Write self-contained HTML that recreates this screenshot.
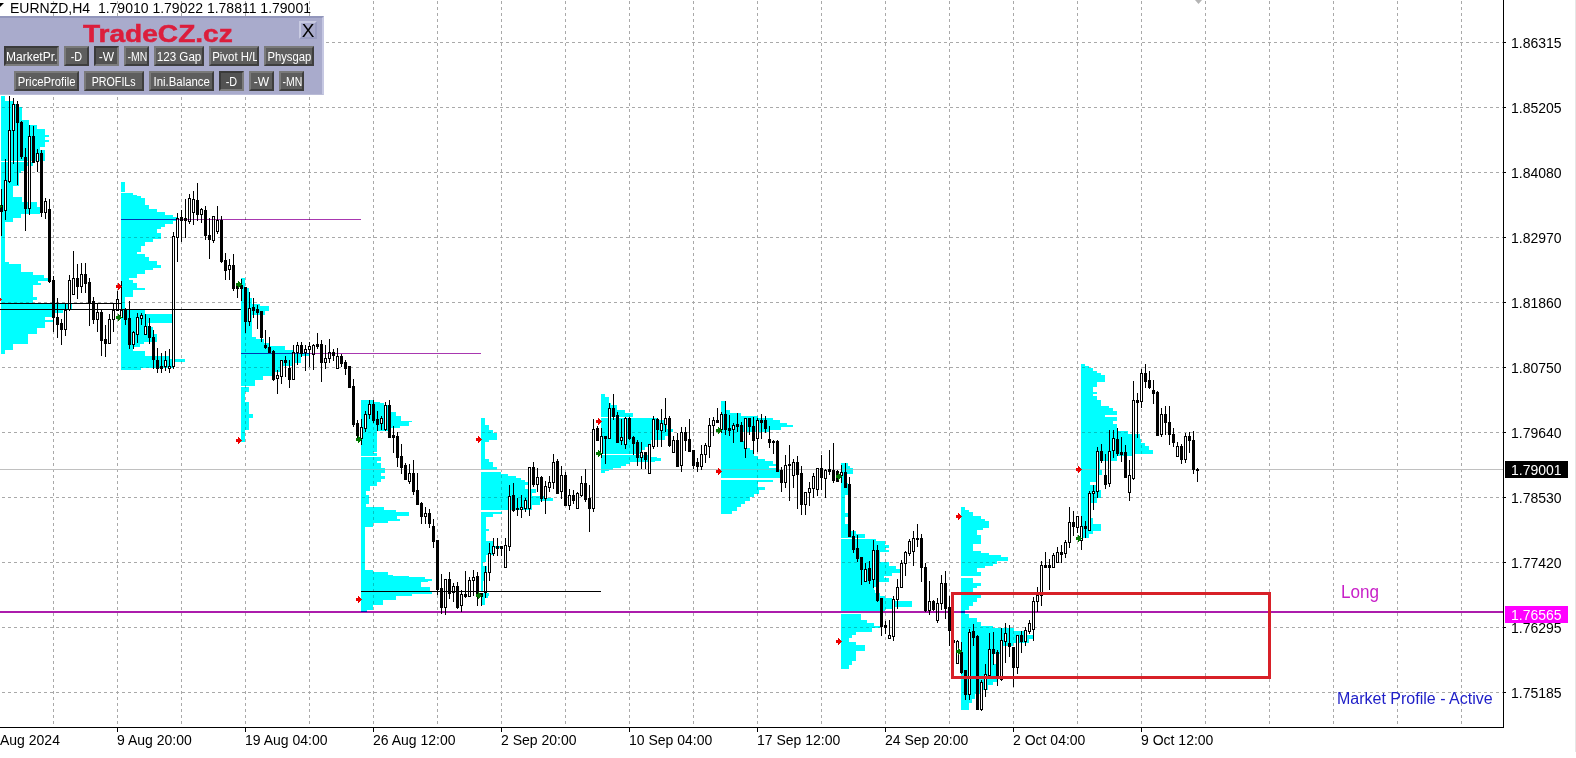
<!DOCTYPE html>
<html><head><meta charset="utf-8"><title>EURNZD,H4</title>
<style>
html,body{margin:0;padding:0;background:#fff;}
body{width:1576px;height:758px;overflow:hidden;position:relative;font-family:"Liberation Sans",sans-serif;}
svg.chart{position:absolute;left:0;top:0;}
.t{position:absolute;white-space:nowrap;line-height:1;}
.ax{font-size:14px;color:#000;}
.panel{position:absolute;left:0;top:16px;width:324px;height:79px;background:#a9abcc;box-sizing:border-box;border-top:2px solid #9296bb;border-right:2px solid #c6c8e2;border-bottom:1px solid #b9bbd6;}
.btn{position:absolute;height:20px;box-sizing:border-box;background:#5e5e5e;color:#fff;font-size:12px;line-height:18px;text-align:center;overflow:hidden;white-space:nowrap;border-top:2px solid #7a7a7a;border-left:2px solid #7a7a7a;border-right:2px solid #3e3e3e;border-bottom:2px solid #3e3e3e;}
.btn.p{background:#525252;border-top-color:#3a3a3a;border-left-color:#3a3a3a;border-right-color:#7c7c7c;border-bottom-color:#7c7c7c;}
</style></head><body>
<svg class="chart" width="1576" height="758" viewBox="0 0 1576 758" shape-rendering="crispEdges">
<line x1="0" y1="42.5" x2="1503" y2="42.5" stroke="#a9a9a9" stroke-width="1" stroke-dasharray="3 3" stroke-dashoffset="4"/><line x1="0" y1="107.5" x2="1503" y2="107.5" stroke="#a9a9a9" stroke-width="1" stroke-dasharray="3 3" stroke-dashoffset="4"/><line x1="0" y1="172.5" x2="1503" y2="172.5" stroke="#a9a9a9" stroke-width="1" stroke-dasharray="3 3" stroke-dashoffset="4"/><line x1="0" y1="237.5" x2="1503" y2="237.5" stroke="#a9a9a9" stroke-width="1" stroke-dasharray="3 3" stroke-dashoffset="4"/><line x1="0" y1="302.5" x2="1503" y2="302.5" stroke="#a9a9a9" stroke-width="1" stroke-dasharray="3 3" stroke-dashoffset="4"/><line x1="0" y1="367.5" x2="1503" y2="367.5" stroke="#a9a9a9" stroke-width="1" stroke-dasharray="3 3" stroke-dashoffset="4"/><line x1="0" y1="432.5" x2="1503" y2="432.5" stroke="#a9a9a9" stroke-width="1" stroke-dasharray="3 3" stroke-dashoffset="4"/><line x1="0" y1="497.5" x2="1503" y2="497.5" stroke="#a9a9a9" stroke-width="1" stroke-dasharray="3 3" stroke-dashoffset="4"/><line x1="0" y1="562.5" x2="1503" y2="562.5" stroke="#a9a9a9" stroke-width="1" stroke-dasharray="3 3" stroke-dashoffset="4"/><line x1="0" y1="627.5" x2="1503" y2="627.5" stroke="#a9a9a9" stroke-width="1" stroke-dasharray="3 3" stroke-dashoffset="4"/><line x1="0" y1="692.5" x2="1503" y2="692.5" stroke="#a9a9a9" stroke-width="1" stroke-dasharray="3 3" stroke-dashoffset="4"/><line x1="53.5" y1="0" x2="53.5" y2="727" stroke="#a9a9a9" stroke-width="1" stroke-dasharray="3 3" stroke-dashoffset="5"/><line x1="117.5" y1="0" x2="117.5" y2="727" stroke="#a9a9a9" stroke-width="1" stroke-dasharray="3 3" stroke-dashoffset="5"/><line x1="181.5" y1="0" x2="181.5" y2="727" stroke="#a9a9a9" stroke-width="1" stroke-dasharray="3 3" stroke-dashoffset="5"/><line x1="245.5" y1="0" x2="245.5" y2="727" stroke="#a9a9a9" stroke-width="1" stroke-dasharray="3 3" stroke-dashoffset="5"/><line x1="309.5" y1="0" x2="309.5" y2="727" stroke="#a9a9a9" stroke-width="1" stroke-dasharray="3 3" stroke-dashoffset="5"/><line x1="373.5" y1="0" x2="373.5" y2="727" stroke="#a9a9a9" stroke-width="1" stroke-dasharray="3 3" stroke-dashoffset="5"/><line x1="437.5" y1="0" x2="437.5" y2="727" stroke="#a9a9a9" stroke-width="1" stroke-dasharray="3 3" stroke-dashoffset="5"/><line x1="501.5" y1="0" x2="501.5" y2="727" stroke="#a9a9a9" stroke-width="1" stroke-dasharray="3 3" stroke-dashoffset="5"/><line x1="565.5" y1="0" x2="565.5" y2="727" stroke="#a9a9a9" stroke-width="1" stroke-dasharray="3 3" stroke-dashoffset="5"/><line x1="629.5" y1="0" x2="629.5" y2="727" stroke="#a9a9a9" stroke-width="1" stroke-dasharray="3 3" stroke-dashoffset="5"/><line x1="693.5" y1="0" x2="693.5" y2="727" stroke="#a9a9a9" stroke-width="1" stroke-dasharray="3 3" stroke-dashoffset="5"/><line x1="757.5" y1="0" x2="757.5" y2="727" stroke="#a9a9a9" stroke-width="1" stroke-dasharray="3 3" stroke-dashoffset="5"/><line x1="821.5" y1="0" x2="821.5" y2="727" stroke="#a9a9a9" stroke-width="1" stroke-dasharray="3 3" stroke-dashoffset="5"/><line x1="885.5" y1="0" x2="885.5" y2="727" stroke="#a9a9a9" stroke-width="1" stroke-dasharray="3 3" stroke-dashoffset="5"/><line x1="949.5" y1="0" x2="949.5" y2="727" stroke="#a9a9a9" stroke-width="1" stroke-dasharray="3 3" stroke-dashoffset="5"/><line x1="1013.5" y1="0" x2="1013.5" y2="727" stroke="#a9a9a9" stroke-width="1" stroke-dasharray="3 3" stroke-dashoffset="5"/><line x1="1077.5" y1="0" x2="1077.5" y2="727" stroke="#a9a9a9" stroke-width="1" stroke-dasharray="3 3" stroke-dashoffset="5"/><line x1="1141.5" y1="0" x2="1141.5" y2="727" stroke="#a9a9a9" stroke-width="1" stroke-dasharray="3 3" stroke-dashoffset="5"/><line x1="1205.5" y1="0" x2="1205.5" y2="727" stroke="#a9a9a9" stroke-width="1" stroke-dasharray="3 3" stroke-dashoffset="5"/><line x1="1269.5" y1="0" x2="1269.5" y2="727" stroke="#a9a9a9" stroke-width="1" stroke-dasharray="3 3" stroke-dashoffset="5"/><line x1="1333.5" y1="0" x2="1333.5" y2="727" stroke="#a9a9a9" stroke-width="1" stroke-dasharray="3 3" stroke-dashoffset="5"/><line x1="1397.5" y1="0" x2="1397.5" y2="727" stroke="#a9a9a9" stroke-width="1" stroke-dasharray="3 3" stroke-dashoffset="5"/><line x1="1461.5" y1="0" x2="1461.5" y2="727" stroke="#a9a9a9" stroke-width="1" stroke-dasharray="3 3" stroke-dashoffset="5"/><rect x="0" y="469" width="1503" height="1" fill="#c0c0c0"/><path d="M1 96H5V101H1ZM1 101H13V104H1ZM1 104H19V107H1ZM1 107H22V120H1ZM1 120H29V125H1ZM1 125H37V129H1ZM1 129H45V135H1ZM1 135H49V137H1ZM1 137H45V140H1ZM1 140H49V142H1ZM1 142H45V147H1ZM1 147H40V150H1ZM1 150H45V161H1ZM1 162H33V166H1ZM1 166H24V171H1ZM1 171H21V173H1ZM1 173H19V186H1ZM1 186H13V190H1ZM1 190H13V197H1ZM1 197H22V202H1ZM1 202H37V207H1ZM1 207H40V214H1ZM1 214H21V218H1ZM1 218H13V222H1ZM1 222H5V262H1ZM1 262H9V264H1ZM1 264H21V270H1ZM1 270H21V272H1ZM1 272H33V275H1ZM1 275H44V278H1ZM1 278H48V281H1ZM1 281H38V283H1ZM1 283H41V285H1ZM1 285H33V297H1ZM1 297H37V300H1ZM1 300H33V302H1ZM1 302H33V304H1ZM1 304H72V309H1ZM1 309H63V313H1ZM1 313H53V317H1ZM1 317H45V320H1ZM1 320H53V322H1ZM1 322H45V328H1ZM1 328H37V334H1ZM1 334H28V344H1ZM1 344H13V350H1ZM1 350H5V354H1Z" fill="#00ffff"/><path d="M121 182H125V192H121ZM121 193H133V195H121ZM121 195H137V196H121ZM121 196H141V198H121ZM121 198H145V202H121ZM121 202H145V205H121ZM121 205H149V209H121ZM121 209H157V212H121ZM121 212H165V215H121ZM121 215H173V217H121ZM121 217H178V221H121ZM121 221H173V224H121ZM121 224H165V227H121ZM121 227H161V229H121ZM121 229H157V233H121ZM121 233H161V239H121ZM121 239H153V242H121ZM121 242H145V246H121ZM121 246H141V252H121ZM121 252H137V254H121ZM121 254H145V257H121ZM121 257H149V261H121ZM121 261H157V265H121ZM121 265H161V268H121ZM121 268H153V270H121ZM121 270H145V274H121ZM121 274H137V278H121ZM121 278H129V280H121ZM121 280H133V283H121ZM121 283H137V288H121ZM121 288H145V290H121ZM121 290H133V297H121ZM121 297H125V310H121ZM121 310H145V314H121ZM121 314H172V318H121ZM121 318H172V323H121ZM121 323H148V327H121ZM121 327H153V334H121ZM121 334H157V342H121ZM121 342H144V344H121ZM121 344H140V347H121ZM121 347H133V351H121ZM121 351H145V356H121ZM121 356H169V359H121ZM121 359H185V362H121ZM121 362H174V368H121ZM121 368H141V370H121Z" fill="#00ffff"/><path d="M241 278H245V288H241ZM241 288H249V298H241ZM241 298H252V304H241ZM241 304H260V306H241ZM241 306H269V311H241ZM241 311H265V315H241ZM241 315H252V326H241ZM241 326H252V337H241ZM241 337H256V339H241ZM241 339H264V343H241ZM241 343H269V346H241ZM241 346H285V350H241ZM241 350H293V353H241ZM241 353H309V356H241ZM241 356H301V363H241ZM241 363H292V366H241ZM241 366H283V372H241ZM241 372H272V376H241ZM241 376H263V380H241ZM241 380H255V386H241ZM241 387H249V392H241ZM241 392H245V402H241ZM241 402H249V414H241ZM241 414H253V418H241ZM241 418H249V430H241ZM241 430H245V442H241Z" fill="#00ffff"/><path d="M361 400H374V402H361ZM361 402H380V403H361ZM361 403H384V405H361ZM361 405H391V412H361ZM361 412H396V416H361ZM361 416H401V421H361ZM361 421H412V422H361ZM361 422H409V426H361ZM361 426H400V428H361ZM361 428H389V431H361ZM361 431H377V452H361ZM361 452H373V453H361ZM361 453H377V456H361ZM361 457H381V461H361ZM361 461H377V463H361ZM361 463H381V468H361ZM361 468H385V473H361ZM361 473H381V476H361ZM361 476H385V479H361ZM361 479H381V482H361ZM361 482H377V486H361ZM361 486H370V491H361ZM361 491H366V495H361ZM361 495H369V504H361ZM361 504H366V507H361ZM361 507H384V510H361ZM361 510H396V512H361ZM361 512H409V516H361ZM361 516H397V519H361ZM361 519H400V521H361ZM361 521H388V523H361ZM361 523H373V527H361ZM361 527H365V570H361ZM361 570H373V572H361ZM361 572H388V575H361ZM361 575H393V576H361ZM361 576H409V577H361ZM361 577H425V579H361ZM361 579H432V581H361ZM361 581H428V582H361ZM361 582H421V587H361ZM361 587H430V592H361ZM361 592H432V594H361ZM361 594H412V596H361ZM361 596H396V600H361ZM361 600H383V605H361ZM361 605H373V610H361ZM361 610H367V612H361Z" fill="#00ffff"/><path d="M481 418H485V425H481ZM481 425H489V430H481ZM481 430H493V433H481ZM481 433H497V440H481ZM481 440H489V442H481ZM481 442H485V459H481ZM481 459H489V462H481ZM481 462H493V467H481ZM481 467H497V470H481ZM481 472H501V474H481ZM481 474H508V476H481ZM481 476H516V478H481ZM481 478H521V480H481ZM481 480H525V482H481ZM481 482H528V485H481ZM481 485H525V489H481ZM481 489H536V493H481ZM481 493H532V496H481ZM481 496H544V498H481ZM481 498H553V501H481ZM481 501H540V505H481ZM481 505H532V510H481ZM481 512H502V514H481ZM481 514H493V517H481ZM481 517H486V529H481ZM481 529H489V531H481ZM481 531H486V541H481ZM481 541H493V546H481ZM481 546H502V548H481ZM481 548H493V555H481ZM481 555H486V562H481ZM481 562H483V566H481ZM481 566H487V581H481ZM481 581H483V591H481ZM481 593H489V596H481ZM481 596H488V598H481ZM481 598H485V605H481Z" fill="#00ffff"/><path d="M601 394H605V397H601ZM601 397H609V403H601ZM601 403H611V405H601ZM601 405H617V410H601ZM601 410H625V413H601ZM601 413H633V417H601ZM601 418H658V420H601ZM601 420H667V429H601ZM601 429H673V432H601ZM601 432H668V436H601ZM601 436H665V440H601ZM601 440H651V445H601ZM601 445H648V447H601ZM601 447H645V450H601ZM601 450H642V454H601ZM601 455H648V457H601ZM601 457H657V458H601ZM601 458H661V461H601ZM601 461H655V462H601ZM601 462H630V464H601ZM601 464H626V466H601ZM601 466H621V468H601ZM601 468H613V470H601ZM601 470H609V471H601ZM601 471H605V473H601Z" fill="#00ffff"/><path d="M721 401H725V410H721ZM721 410H730V413H721ZM721 413H741V416H721ZM721 416H758V418H721ZM721 418H773V420H721ZM721 420H780V423H721ZM721 423H787V425H721ZM721 425H793V427H721ZM721 427H781V430H721ZM721 430H770V432H721ZM721 432H741V441H721ZM721 441H745V448H721ZM721 448H750V450H721ZM721 450H754V456H721ZM721 456H758V459H721ZM721 459H765V461H721ZM721 461H773V464H721ZM721 464H776V466H721ZM721 466H769V468H721ZM721 468H776V470H721ZM721 470H780V478H721ZM721 480H773V482H721ZM721 482H758V487H721ZM721 487H765V490H721ZM721 490H759V494H721ZM721 494H754V497H721ZM721 497H750V501H721ZM721 501H745V504H721ZM721 504H741V507H721ZM721 507H737V511H721ZM721 511H732V514H721Z" fill="#00ffff"/><path d="M841 463H848V466H841ZM841 466H850V468H841ZM841 468H853V474H841ZM841 474H847V483H841ZM841 483H848V495H841ZM841 495H845V513H841ZM841 513H851V517H841ZM841 517H845V524H841ZM841 524H850V531H841ZM841 531H856V534H841ZM841 534H865V538H841ZM841 539H876V541H841ZM841 541H885V545H841ZM841 545H889V548H841ZM841 548H885V550H841ZM841 550H889V552H841ZM841 552H880V562H841ZM841 562H889V566H841ZM841 566H896V569H841ZM841 569H900V573H841ZM841 573H892V576H841ZM841 576H884V578H841ZM841 578H889V582H841ZM841 582H878V587H841ZM841 587H874V590H841ZM841 590H875V593H841ZM841 593H880V596H841ZM841 596H885V598H841ZM841 598H892V601H841ZM841 601H912V607H841ZM841 607H892V609H841ZM841 609H885V611H841ZM841 614H861V620H841ZM841 620H867V623H841ZM841 623H874V626H841ZM841 626H880V628H841ZM841 628H872V632H841ZM841 632H856V635H841ZM841 635H852V638H841ZM841 638H849V642H841ZM841 642H856V645H841ZM841 645H865V651H841ZM841 651H856V661H841ZM841 661H852V665H841ZM841 665H849V669H841Z" fill="#00ffff"/><path d="M961 507H965V510H961ZM961 510H969V512H961ZM961 512H973V516H961ZM961 516H981V519H961ZM961 519H985V521H961ZM961 521H989V528H961ZM961 528H983V530H961ZM961 530H977V535H961ZM961 535H981V544H961ZM961 544H973V551H961ZM961 551H981V553H961ZM961 553H989V555H961ZM961 555H1001V557H961ZM961 557H1008V561H961ZM961 561H997V564H961ZM961 564H993V566H961ZM961 566H985V568H961ZM961 568H977V572H961ZM961 572H981V576H961ZM961 578H973V583H961ZM961 583H981V586H961ZM961 586H977V588H961ZM961 588H973V592H961ZM961 592H977V595H961ZM961 595H981V598H961ZM961 598H977V602H961ZM961 602H973V606H961ZM961 606H969V610H961ZM961 610H965V614H961ZM961 614H969V618H961ZM961 618H977V622H961ZM961 622H981V626H961ZM961 626H993V628H961ZM961 628H1014V631H961ZM961 631H1027V635H961ZM961 635H1033V639H961ZM961 639H1029V643H961ZM961 643H1013V646H961ZM961 646H1003V654H961ZM961 654H994V664H961ZM961 664H996V671H961ZM961 671H997V682H961ZM961 682H993V685H961ZM961 685H988V690H961ZM961 690H980V694H961ZM961 694H975V699H961ZM961 699H972V703H961ZM961 703H969V710H961Z" fill="#00ffff"/><path d="M1081 364H1085V366H1081ZM1081 366H1089V368H1081ZM1081 368H1093V371H1081ZM1081 371H1097V373H1081ZM1081 373H1101V375H1081ZM1081 375H1105V382H1081ZM1081 382H1097V387H1081ZM1081 387H1093V392H1081ZM1081 392H1097V394H1081ZM1081 394H1093V396H1081ZM1081 396H1097V400H1081ZM1081 400H1101V406H1081ZM1081 406H1109V408H1081ZM1081 408H1113V411H1081ZM1081 411H1117V415H1081ZM1081 415H1105V417H1081ZM1081 417H1117V421H1081ZM1081 421H1113V424H1081ZM1081 424H1117V431H1081ZM1081 431H1128V434H1081ZM1081 434H1140V439H1081ZM1081 439H1141V443H1081ZM1081 443H1145V446H1081ZM1081 446H1149V450H1081ZM1081 450H1153V454H1081ZM1081 454H1133V456H1081ZM1081 456H1117V461H1081ZM1081 461H1100V470H1081ZM1081 470H1102V475H1081ZM1081 475H1097V482H1081ZM1081 482H1090V485H1081ZM1081 485H1097V490H1081ZM1081 490H1101V498H1081ZM1081 498H1097V503H1081ZM1081 503H1090V518H1081ZM1081 518H1093V524H1081ZM1081 524H1101V531H1081ZM1081 531H1093V534H1081ZM1081 534H1089V538H1081Z" fill="#00ffff"/><defs><clipPath id="hc"><path d="M1 96H5V101H1ZM1 101H13V104H1ZM1 104H19V107H1ZM1 107H22V120H1ZM1 120H29V125H1ZM1 125H37V129H1ZM1 129H45V135H1ZM1 135H49V137H1ZM1 137H45V140H1ZM1 140H49V142H1ZM1 142H45V147H1ZM1 147H40V150H1ZM1 150H45V161H1ZM1 162H33V166H1ZM1 166H24V171H1ZM1 171H21V173H1ZM1 173H19V186H1ZM1 186H13V190H1ZM1 190H13V197H1ZM1 197H22V202H1ZM1 202H37V207H1ZM1 207H40V214H1ZM1 214H21V218H1ZM1 218H13V222H1ZM1 222H5V262H1ZM1 262H9V264H1ZM1 264H21V270H1ZM1 270H21V272H1ZM1 272H33V275H1ZM1 275H44V278H1ZM1 278H48V281H1ZM1 281H38V283H1ZM1 283H41V285H1ZM1 285H33V297H1ZM1 297H37V300H1ZM1 300H33V302H1ZM1 302H33V304H1ZM1 304H72V309H1ZM1 309H63V313H1ZM1 313H53V317H1ZM1 317H45V320H1ZM1 320H53V322H1ZM1 322H45V328H1ZM1 328H37V334H1ZM1 334H28V344H1ZM1 344H13V350H1ZM1 350H5V354H1ZM121 182H125V192H121ZM121 193H133V195H121ZM121 195H137V196H121ZM121 196H141V198H121ZM121 198H145V202H121ZM121 202H145V205H121ZM121 205H149V209H121ZM121 209H157V212H121ZM121 212H165V215H121ZM121 215H173V217H121ZM121 217H178V221H121ZM121 221H173V224H121ZM121 224H165V227H121ZM121 227H161V229H121ZM121 229H157V233H121ZM121 233H161V239H121ZM121 239H153V242H121ZM121 242H145V246H121ZM121 246H141V252H121ZM121 252H137V254H121ZM121 254H145V257H121ZM121 257H149V261H121ZM121 261H157V265H121ZM121 265H161V268H121ZM121 268H153V270H121ZM121 270H145V274H121ZM121 274H137V278H121ZM121 278H129V280H121ZM121 280H133V283H121ZM121 283H137V288H121ZM121 288H145V290H121ZM121 290H133V297H121ZM121 297H125V310H121ZM121 310H145V314H121ZM121 314H172V318H121ZM121 318H172V323H121ZM121 323H148V327H121ZM121 327H153V334H121ZM121 334H157V342H121ZM121 342H144V344H121ZM121 344H140V347H121ZM121 347H133V351H121ZM121 351H145V356H121ZM121 356H169V359H121ZM121 359H185V362H121ZM121 362H174V368H121ZM121 368H141V370H121ZM241 278H245V288H241ZM241 288H249V298H241ZM241 298H252V304H241ZM241 304H260V306H241ZM241 306H269V311H241ZM241 311H265V315H241ZM241 315H252V326H241ZM241 326H252V337H241ZM241 337H256V339H241ZM241 339H264V343H241ZM241 343H269V346H241ZM241 346H285V350H241ZM241 350H293V353H241ZM241 353H309V356H241ZM241 356H301V363H241ZM241 363H292V366H241ZM241 366H283V372H241ZM241 372H272V376H241ZM241 376H263V380H241ZM241 380H255V386H241ZM241 387H249V392H241ZM241 392H245V402H241ZM241 402H249V414H241ZM241 414H253V418H241ZM241 418H249V430H241ZM241 430H245V442H241ZM361 400H374V402H361ZM361 402H380V403H361ZM361 403H384V405H361ZM361 405H391V412H361ZM361 412H396V416H361ZM361 416H401V421H361ZM361 421H412V422H361ZM361 422H409V426H361ZM361 426H400V428H361ZM361 428H389V431H361ZM361 431H377V452H361ZM361 452H373V453H361ZM361 453H377V456H361ZM361 457H381V461H361ZM361 461H377V463H361ZM361 463H381V468H361ZM361 468H385V473H361ZM361 473H381V476H361ZM361 476H385V479H361ZM361 479H381V482H361ZM361 482H377V486H361ZM361 486H370V491H361ZM361 491H366V495H361ZM361 495H369V504H361ZM361 504H366V507H361ZM361 507H384V510H361ZM361 510H396V512H361ZM361 512H409V516H361ZM361 516H397V519H361ZM361 519H400V521H361ZM361 521H388V523H361ZM361 523H373V527H361ZM361 527H365V570H361ZM361 570H373V572H361ZM361 572H388V575H361ZM361 575H393V576H361ZM361 576H409V577H361ZM361 577H425V579H361ZM361 579H432V581H361ZM361 581H428V582H361ZM361 582H421V587H361ZM361 587H430V592H361ZM361 592H432V594H361ZM361 594H412V596H361ZM361 596H396V600H361ZM361 600H383V605H361ZM361 605H373V610H361ZM361 610H367V612H361ZM481 418H485V425H481ZM481 425H489V430H481ZM481 430H493V433H481ZM481 433H497V440H481ZM481 440H489V442H481ZM481 442H485V459H481ZM481 459H489V462H481ZM481 462H493V467H481ZM481 467H497V470H481ZM481 472H501V474H481ZM481 474H508V476H481ZM481 476H516V478H481ZM481 478H521V480H481ZM481 480H525V482H481ZM481 482H528V485H481ZM481 485H525V489H481ZM481 489H536V493H481ZM481 493H532V496H481ZM481 496H544V498H481ZM481 498H553V501H481ZM481 501H540V505H481ZM481 505H532V510H481ZM481 512H502V514H481ZM481 514H493V517H481ZM481 517H486V529H481ZM481 529H489V531H481ZM481 531H486V541H481ZM481 541H493V546H481ZM481 546H502V548H481ZM481 548H493V555H481ZM481 555H486V562H481ZM481 562H483V566H481ZM481 566H487V581H481ZM481 581H483V591H481ZM481 593H489V596H481ZM481 596H488V598H481ZM481 598H485V605H481ZM601 394H605V397H601ZM601 397H609V403H601ZM601 403H611V405H601ZM601 405H617V410H601ZM601 410H625V413H601ZM601 413H633V417H601ZM601 418H658V420H601ZM601 420H667V429H601ZM601 429H673V432H601ZM601 432H668V436H601ZM601 436H665V440H601ZM601 440H651V445H601ZM601 445H648V447H601ZM601 447H645V450H601ZM601 450H642V454H601ZM601 455H648V457H601ZM601 457H657V458H601ZM601 458H661V461H601ZM601 461H655V462H601ZM601 462H630V464H601ZM601 464H626V466H601ZM601 466H621V468H601ZM601 468H613V470H601ZM601 470H609V471H601ZM601 471H605V473H601ZM721 401H725V410H721ZM721 410H730V413H721ZM721 413H741V416H721ZM721 416H758V418H721ZM721 418H773V420H721ZM721 420H780V423H721ZM721 423H787V425H721ZM721 425H793V427H721ZM721 427H781V430H721ZM721 430H770V432H721ZM721 432H741V441H721ZM721 441H745V448H721ZM721 448H750V450H721ZM721 450H754V456H721ZM721 456H758V459H721ZM721 459H765V461H721ZM721 461H773V464H721ZM721 464H776V466H721ZM721 466H769V468H721ZM721 468H776V470H721ZM721 470H780V478H721ZM721 480H773V482H721ZM721 482H758V487H721ZM721 487H765V490H721ZM721 490H759V494H721ZM721 494H754V497H721ZM721 497H750V501H721ZM721 501H745V504H721ZM721 504H741V507H721ZM721 507H737V511H721ZM721 511H732V514H721ZM841 463H848V466H841ZM841 466H850V468H841ZM841 468H853V474H841ZM841 474H847V483H841ZM841 483H848V495H841ZM841 495H845V513H841ZM841 513H851V517H841ZM841 517H845V524H841ZM841 524H850V531H841ZM841 531H856V534H841ZM841 534H865V538H841ZM841 539H876V541H841ZM841 541H885V545H841ZM841 545H889V548H841ZM841 548H885V550H841ZM841 550H889V552H841ZM841 552H880V562H841ZM841 562H889V566H841ZM841 566H896V569H841ZM841 569H900V573H841ZM841 573H892V576H841ZM841 576H884V578H841ZM841 578H889V582H841ZM841 582H878V587H841ZM841 587H874V590H841ZM841 590H875V593H841ZM841 593H880V596H841ZM841 596H885V598H841ZM841 598H892V601H841ZM841 601H912V607H841ZM841 607H892V609H841ZM841 609H885V611H841ZM841 614H861V620H841ZM841 620H867V623H841ZM841 623H874V626H841ZM841 626H880V628H841ZM841 628H872V632H841ZM841 632H856V635H841ZM841 635H852V638H841ZM841 638H849V642H841ZM841 642H856V645H841ZM841 645H865V651H841ZM841 651H856V661H841ZM841 661H852V665H841ZM841 665H849V669H841ZM961 507H965V510H961ZM961 510H969V512H961ZM961 512H973V516H961ZM961 516H981V519H961ZM961 519H985V521H961ZM961 521H989V528H961ZM961 528H983V530H961ZM961 530H977V535H961ZM961 535H981V544H961ZM961 544H973V551H961ZM961 551H981V553H961ZM961 553H989V555H961ZM961 555H1001V557H961ZM961 557H1008V561H961ZM961 561H997V564H961ZM961 564H993V566H961ZM961 566H985V568H961ZM961 568H977V572H961ZM961 572H981V576H961ZM961 578H973V583H961ZM961 583H981V586H961ZM961 586H977V588H961ZM961 588H973V592H961ZM961 592H977V595H961ZM961 595H981V598H961ZM961 598H977V602H961ZM961 602H973V606H961ZM961 606H969V610H961ZM961 610H965V614H961ZM961 614H969V618H961ZM961 618H977V622H961ZM961 622H981V626H961ZM961 626H993V628H961ZM961 628H1014V631H961ZM961 631H1027V635H961ZM961 635H1033V639H961ZM961 639H1029V643H961ZM961 643H1013V646H961ZM961 646H1003V654H961ZM961 654H994V664H961ZM961 664H996V671H961ZM961 671H997V682H961ZM961 682H993V685H961ZM961 685H988V690H961ZM961 690H980V694H961ZM961 694H975V699H961ZM961 699H972V703H961ZM961 703H969V710H961ZM1081 364H1085V366H1081ZM1081 366H1089V368H1081ZM1081 368H1093V371H1081ZM1081 371H1097V373H1081ZM1081 373H1101V375H1081ZM1081 375H1105V382H1081ZM1081 382H1097V387H1081ZM1081 387H1093V392H1081ZM1081 392H1097V394H1081ZM1081 394H1093V396H1081ZM1081 396H1097V400H1081ZM1081 400H1101V406H1081ZM1081 406H1109V408H1081ZM1081 408H1113V411H1081ZM1081 411H1117V415H1081ZM1081 415H1105V417H1081ZM1081 417H1117V421H1081ZM1081 421H1113V424H1081ZM1081 424H1117V431H1081ZM1081 431H1128V434H1081ZM1081 434H1140V439H1081ZM1081 439H1141V443H1081ZM1081 443H1145V446H1081ZM1081 446H1149V450H1081ZM1081 450H1153V454H1081ZM1081 454H1133V456H1081ZM1081 456H1117V461H1081ZM1081 461H1100V470H1081ZM1081 470H1102V475H1081ZM1081 475H1097V482H1081ZM1081 482H1090V485H1081ZM1081 485H1097V490H1081ZM1081 490H1101V498H1081ZM1081 498H1097V503H1081ZM1081 503H1090V518H1081ZM1081 518H1093V524H1081ZM1081 524H1101V531H1081ZM1081 531H1093V534H1081ZM1081 534H1089V538H1081Z"/></clipPath></defs><g clip-path="url(#hc)"><line x1="0" y1="42.5" x2="1503" y2="42.5" stroke="#00c4c4" stroke-width="1" stroke-dasharray="3 3" stroke-dashoffset="4"/><line x1="0" y1="107.5" x2="1503" y2="107.5" stroke="#00c4c4" stroke-width="1" stroke-dasharray="3 3" stroke-dashoffset="4"/><line x1="0" y1="172.5" x2="1503" y2="172.5" stroke="#00c4c4" stroke-width="1" stroke-dasharray="3 3" stroke-dashoffset="4"/><line x1="0" y1="237.5" x2="1503" y2="237.5" stroke="#00c4c4" stroke-width="1" stroke-dasharray="3 3" stroke-dashoffset="4"/><line x1="0" y1="302.5" x2="1503" y2="302.5" stroke="#00c4c4" stroke-width="1" stroke-dasharray="3 3" stroke-dashoffset="4"/><line x1="0" y1="367.5" x2="1503" y2="367.5" stroke="#00c4c4" stroke-width="1" stroke-dasharray="3 3" stroke-dashoffset="4"/><line x1="0" y1="432.5" x2="1503" y2="432.5" stroke="#00c4c4" stroke-width="1" stroke-dasharray="3 3" stroke-dashoffset="4"/><line x1="0" y1="497.5" x2="1503" y2="497.5" stroke="#00c4c4" stroke-width="1" stroke-dasharray="3 3" stroke-dashoffset="4"/><line x1="0" y1="562.5" x2="1503" y2="562.5" stroke="#00c4c4" stroke-width="1" stroke-dasharray="3 3" stroke-dashoffset="4"/><line x1="0" y1="627.5" x2="1503" y2="627.5" stroke="#00c4c4" stroke-width="1" stroke-dasharray="3 3" stroke-dashoffset="4"/><line x1="0" y1="692.5" x2="1503" y2="692.5" stroke="#00c4c4" stroke-width="1" stroke-dasharray="3 3" stroke-dashoffset="4"/><line x1="53.5" y1="0" x2="53.5" y2="727" stroke="#00c4c4" stroke-width="1" stroke-dasharray="3 3" stroke-dashoffset="5"/><line x1="117.5" y1="0" x2="117.5" y2="727" stroke="#00c4c4" stroke-width="1" stroke-dasharray="3 3" stroke-dashoffset="5"/><line x1="181.5" y1="0" x2="181.5" y2="727" stroke="#00c4c4" stroke-width="1" stroke-dasharray="3 3" stroke-dashoffset="5"/><line x1="245.5" y1="0" x2="245.5" y2="727" stroke="#00c4c4" stroke-width="1" stroke-dasharray="3 3" stroke-dashoffset="5"/><line x1="309.5" y1="0" x2="309.5" y2="727" stroke="#00c4c4" stroke-width="1" stroke-dasharray="3 3" stroke-dashoffset="5"/><line x1="373.5" y1="0" x2="373.5" y2="727" stroke="#00c4c4" stroke-width="1" stroke-dasharray="3 3" stroke-dashoffset="5"/><line x1="437.5" y1="0" x2="437.5" y2="727" stroke="#00c4c4" stroke-width="1" stroke-dasharray="3 3" stroke-dashoffset="5"/><line x1="501.5" y1="0" x2="501.5" y2="727" stroke="#00c4c4" stroke-width="1" stroke-dasharray="3 3" stroke-dashoffset="5"/><line x1="565.5" y1="0" x2="565.5" y2="727" stroke="#00c4c4" stroke-width="1" stroke-dasharray="3 3" stroke-dashoffset="5"/><line x1="629.5" y1="0" x2="629.5" y2="727" stroke="#00c4c4" stroke-width="1" stroke-dasharray="3 3" stroke-dashoffset="5"/><line x1="693.5" y1="0" x2="693.5" y2="727" stroke="#00c4c4" stroke-width="1" stroke-dasharray="3 3" stroke-dashoffset="5"/><line x1="757.5" y1="0" x2="757.5" y2="727" stroke="#00c4c4" stroke-width="1" stroke-dasharray="3 3" stroke-dashoffset="5"/><line x1="821.5" y1="0" x2="821.5" y2="727" stroke="#00c4c4" stroke-width="1" stroke-dasharray="3 3" stroke-dashoffset="5"/><line x1="885.5" y1="0" x2="885.5" y2="727" stroke="#00c4c4" stroke-width="1" stroke-dasharray="3 3" stroke-dashoffset="5"/><line x1="949.5" y1="0" x2="949.5" y2="727" stroke="#00c4c4" stroke-width="1" stroke-dasharray="3 3" stroke-dashoffset="5"/><line x1="1013.5" y1="0" x2="1013.5" y2="727" stroke="#00c4c4" stroke-width="1" stroke-dasharray="3 3" stroke-dashoffset="5"/><line x1="1077.5" y1="0" x2="1077.5" y2="727" stroke="#00c4c4" stroke-width="1" stroke-dasharray="3 3" stroke-dashoffset="5"/><line x1="1141.5" y1="0" x2="1141.5" y2="727" stroke="#00c4c4" stroke-width="1" stroke-dasharray="3 3" stroke-dashoffset="5"/><line x1="1205.5" y1="0" x2="1205.5" y2="727" stroke="#00c4c4" stroke-width="1" stroke-dasharray="3 3" stroke-dashoffset="5"/><line x1="1269.5" y1="0" x2="1269.5" y2="727" stroke="#00c4c4" stroke-width="1" stroke-dasharray="3 3" stroke-dashoffset="5"/><line x1="1333.5" y1="0" x2="1333.5" y2="727" stroke="#00c4c4" stroke-width="1" stroke-dasharray="3 3" stroke-dashoffset="5"/><line x1="1397.5" y1="0" x2="1397.5" y2="727" stroke="#00c4c4" stroke-width="1" stroke-dasharray="3 3" stroke-dashoffset="5"/><line x1="1461.5" y1="0" x2="1461.5" y2="727" stroke="#00c4c4" stroke-width="1" stroke-dasharray="3 3" stroke-dashoffset="5"/><rect x="0" y="469" width="1503" height="1" fill="#50d4d4"/></g><path d="M1 189h1V236h-1ZM0 205h3V212h-3ZM5 159h1V220h-1ZM4 180h3V211h-3ZM9 96h1V183h-1ZM8 130h3V182h-3ZM13 98h1V164h-1ZM12 104h3V131h-3ZM17 101h1V185h-1ZM16 104h3V123h-3ZM21 121h1V159h-1ZM20 122h3V157h-3ZM25 148h1V231h-1ZM24 157h3V209h-3ZM29 125h1V215h-1ZM28 136h3V209h-3ZM33 126h1V163h-1ZM32 136h3V163h-3ZM37 149h1V172h-1ZM36 153h3V162h-3ZM41 150h1V217h-1ZM40 153h3V213h-3ZM45 198h1V219h-1ZM44 201h3V213h-3ZM49 199h1V283h-1ZM48 209h3V282h-3ZM53 276h1V332h-1ZM52 280h3V318h-3ZM57 298h1V338h-1ZM56 317h3V325h-3ZM61 319h1V345h-1ZM60 323h3V330h-3ZM65 303h1V336h-1ZM64 310h3V330h-3ZM69 275h1V311h-1ZM68 280h3V310h-3ZM73 251h1V295h-1ZM72 278h3V295h-3ZM77 264h1V299h-1ZM76 278h3V287h-3ZM81 263h1V293h-1ZM80 274h3V287h-3ZM85 263h1V293h-1ZM84 274h3V284h-3ZM89 278h1V326h-1ZM88 282h3V303h-3ZM93 297h1V324h-1ZM92 301h3V320h-3ZM97 303h1V332h-1ZM96 312h3V320h-3ZM101 310h1V356h-1ZM100 312h3V341h-3ZM105 325h1V357h-1ZM104 339h3V344h-3ZM109 314h1V344h-1ZM108 319h3V344h-3ZM113 304h1V332h-1ZM112 310h3V320h-3ZM117 291h1V311h-1ZM116 299h3V311h-3ZM121 281h1V318h-1ZM120 310h3V318h-3ZM125 308h1V325h-1ZM124 309h3V320h-3ZM129 301h1V349h-1ZM128 318h3V345h-3ZM133 331h1V349h-1ZM132 332h3V345h-3ZM137 313h1V343h-1ZM136 317h3V335h-3ZM141 313h1V325h-1ZM140 315h3V319h-3ZM145 314h1V335h-1ZM144 326h3V335h-3ZM149 318h1V344h-1ZM148 326h3V338h-3ZM153 330h1V369h-1ZM152 337h3V360h-3ZM157 348h1V373h-1ZM156 360h3V369h-3ZM161 353h1V373h-1ZM160 366h3V369h-3ZM165 351h1V371h-1ZM164 360h3V367h-3ZM169 349h1V373h-1ZM168 366h3V369h-3ZM173 232h1V369h-1ZM172 236h3V367h-3ZM177 213h1V262h-1ZM176 218h3V238h-3ZM181 210h1V242h-1ZM180 217h3V221h-3ZM185 199h1V238h-1ZM184 218h3V221h-3ZM189 194h1V224h-1ZM188 198h3V222h-3ZM193 191h1V225h-1ZM192 199h3V213h-3ZM197 183h1V221h-1ZM196 200h3V215h-3ZM201 208h1V223h-1ZM200 209h3V215h-3ZM205 206h1V240h-1ZM204 210h3V236h-3ZM209 218h1V259h-1ZM208 235h3V240h-3ZM213 216h1V243h-1ZM212 216h3V241h-3ZM217 206h1V234h-1ZM216 220h3V232h-3ZM221 216h1V263h-1ZM220 220h3V262h-3ZM225 253h1V280h-1ZM224 260h3V271h-3ZM229 259h1V280h-1ZM228 265h3V270h-3ZM233 254h1V291h-1ZM232 265h3V289h-3ZM237 284h1V298h-1ZM236 286h3V289h-3ZM241 279h1V301h-1ZM240 285h3V289h-3ZM245 287h1V333h-1ZM244 287h3V322h-3ZM249 292h1V326h-1ZM248 308h3V322h-3ZM253 298h1V318h-1ZM252 307h3V311h-3ZM257 305h1V329h-1ZM256 309h3V313h-3ZM261 311h1V342h-1ZM260 311h3V338h-3ZM265 330h1V349h-1ZM264 345h3V348h-3ZM269 337h1V353h-1ZM268 347h3V353h-3ZM273 350h1V381h-1ZM272 351h3V380h-3ZM277 370h1V394h-1ZM276 375h3V379h-3ZM281 360h1V384h-1ZM280 360h3V377h-3ZM285 356h1V377h-1ZM284 360h3V363h-3ZM289 360h1V388h-1ZM288 368h3V380h-3ZM293 345h1V380h-1ZM292 352h3V380h-3ZM297 342h1V365h-1ZM296 345h3V353h-3ZM301 342h1V357h-1ZM300 345h3V354h-3ZM305 345h1V371h-1ZM304 349h3V353h-3ZM309 342h1V367h-1ZM308 346h3V350h-3ZM313 344h1V370h-1ZM312 345h3V355h-3ZM317 333h1V349h-1ZM316 344h3V347h-3ZM321 340h1V382h-1ZM320 344h3V363h-3ZM325 345h1V369h-1ZM324 358h3V363h-3ZM329 339h1V363h-1ZM328 352h3V359h-3ZM333 349h1V361h-1ZM332 352h3V356h-3ZM337 348h1V369h-1ZM336 356h3V369h-3ZM341 354h1V367h-1ZM340 356h3V364h-3ZM345 360h1V375h-1ZM344 362h3V369h-3ZM349 366h1V388h-1ZM348 366h3V388h-3ZM353 379h1V427h-1ZM352 386h3V425h-3ZM357 420h1V438h-1ZM356 423h3V436h-3ZM361 419h1V445h-1ZM360 427h3V439h-3ZM365 411h1V432h-1ZM364 414h3V429h-3ZM369 400h1V419h-1ZM368 404h3V415h-3ZM373 400h1V423h-1ZM372 404h3V421h-3ZM377 411h1V431h-1ZM376 419h3V425h-3ZM381 416h1V430h-1ZM380 418h3V424h-3ZM385 402h1V431h-1ZM384 405h3V430h-3ZM389 400h1V438h-1ZM388 405h3V438h-3ZM393 426h1V453h-1ZM392 435h3V438h-3ZM397 432h1V467h-1ZM396 436h3V458h-3ZM401 444h1V474h-1ZM400 456h3V468h-3ZM405 463h1V480h-1ZM404 465h3V480h-3ZM409 464h1V484h-1ZM408 473h3V482h-3ZM413 460h1V495h-1ZM412 473h3V492h-3ZM417 473h1V505h-1ZM416 490h3V505h-3ZM421 502h1V524h-1ZM420 503h3V517h-3ZM425 507h1V524h-1ZM424 513h3V517h-3ZM429 509h1V528h-1ZM428 513h3V524h-3ZM433 519h1V548h-1ZM432 526h3V542h-3ZM437 540h1V595h-1ZM436 540h3V590h-3ZM441 574h1V614h-1ZM440 588h3V608h-3ZM445 579h1V615h-1ZM444 579h3V608h-3ZM449 572h1V599h-1ZM448 579h3V594h-3ZM453 583h1V602h-1ZM452 586h3V593h-3ZM457 582h1V609h-1ZM456 586h3V608h-3ZM461 590h1V612h-1ZM460 594h3V606h-3ZM465 571h1V598h-1ZM464 594h3V597h-3ZM469 577h1V597h-1ZM468 580h3V597h-3ZM473 570h1V596h-1ZM472 577h3V581h-3ZM477 572h1V606h-1ZM476 576h3V594h-3ZM481 593h1V606h-1ZM480 593h3V597h-3ZM485 566h1V598h-1ZM484 572h3V593h-3ZM489 543h1V581h-1ZM488 553h3V573h-3ZM493 538h1V556h-1ZM492 546h3V554h-3ZM497 538h1V556h-1ZM496 546h3V549h-3ZM501 546h1V556h-1ZM500 546h3V549h-3ZM505 538h1V568h-1ZM504 545h3V568h-3ZM509 485h1V551h-1ZM508 496h3V547h-3ZM513 483h1V512h-1ZM512 495h3V511h-3ZM517 498h1V516h-1ZM516 508h3V510h-3ZM521 495h1V518h-1ZM520 507h3V510h-3ZM525 498h1V512h-1ZM524 500h3V509h-3ZM529 467h1V516h-1ZM528 467h3V509h-3ZM533 462h1V487h-1ZM532 467h3V485h-3ZM537 468h1V492h-1ZM536 477h3V485h-3ZM541 476h1V502h-1ZM540 477h3V499h-3ZM545 481h1V514h-1ZM544 486h3V499h-3ZM549 476h1V492h-1ZM548 482h3V488h-3ZM553 454h1V489h-1ZM552 462h3V483h-3ZM557 459h1V494h-1ZM556 461h3V494h-3ZM561 466h1V499h-1ZM560 475h3V492h-3ZM565 472h1V506h-1ZM564 475h3V506h-3ZM569 489h1V510h-1ZM568 495h3V506h-3ZM573 490h1V504h-1ZM572 495h3V501h-3ZM577 492h1V509h-1ZM576 493h3V509h-3ZM581 476h1V497h-1ZM580 483h3V496h-3ZM585 469h1V502h-1ZM584 483h3V500h-3ZM589 485h1V532h-1ZM588 498h3V509h-3ZM593 419h1V512h-1ZM592 429h3V509h-3ZM597 426h1V441h-1ZM596 428h3V441h-3ZM601 428h1V458h-1ZM600 436h3V454h-3ZM605 436h1V464h-1ZM604 436h3V439h-3ZM609 403h1V439h-1ZM608 408h3V439h-3ZM613 394h1V420h-1ZM612 408h3V417h-3ZM617 412h1V443h-1ZM616 415h3V443h-3ZM621 419h1V445h-1ZM620 437h3V441h-3ZM625 417h1V449h-1ZM624 418h3V445h-3ZM629 417h1V440h-1ZM628 418h3V439h-3ZM633 436h1V455h-1ZM632 437h3V444h-3ZM637 440h1V466h-1ZM636 442h3V458h-3ZM641 442h1V469h-1ZM640 452h3V458h-3ZM645 452h1V469h-1ZM644 452h3V460h-3ZM649 444h1V474h-1ZM648 444h3V474h-3ZM653 416h1V449h-1ZM652 419h3V447h-3ZM657 418h1V447h-1ZM656 419h3V430h-3ZM661 409h1V447h-1ZM660 423h3V431h-3ZM665 398h1V432h-1ZM664 418h3V425h-3ZM669 416h1V447h-1ZM668 418h3V446h-3ZM673 436h1V453h-1ZM672 440h3V453h-3ZM677 433h1V467h-1ZM676 440h3V467h-3ZM681 427h1V472h-1ZM680 432h3V466h-3ZM685 427h1V451h-1ZM684 432h3V441h-3ZM689 419h1V452h-1ZM688 439h3V452h-3ZM693 450h1V469h-1ZM692 450h3V466h-3ZM697 458h1V472h-1ZM696 462h3V467h-3ZM701 445h1V470h-1ZM700 454h3V467h-3ZM705 443h1V463h-1ZM704 445h3V455h-3ZM709 418h1V458h-1ZM708 425h3V447h-3ZM713 417h1V436h-1ZM712 420h3V426h-3ZM717 408h1V423h-1ZM716 420h3V423h-3ZM721 412h1V433h-1ZM720 414h3V430h-3ZM725 401h1V435h-1ZM724 414h3V430h-3ZM729 415h1V436h-1ZM728 428h3V431h-3ZM733 423h1V443h-1ZM732 425h3V430h-3ZM737 413h1V432h-1ZM736 424h3V427h-3ZM741 422h1V442h-1ZM740 425h3V442h-3ZM745 418h1V458h-1ZM744 418h3V449h-3ZM749 418h1V435h-1ZM748 418h3V427h-3ZM753 417h1V454h-1ZM752 426h3V441h-3ZM757 418h1V452h-1ZM756 420h3V439h-3ZM761 414h1V439h-1ZM760 420h3V423h-3ZM765 416h1V433h-1ZM764 420h3V429h-3ZM769 426h1V448h-1ZM768 439h3V443h-3ZM773 440h1V454h-1ZM772 441h3V443h-3ZM777 440h1V472h-1ZM776 441h3V472h-3ZM781 467h1V492h-1ZM780 470h3V483h-3ZM785 455h1V488h-1ZM784 465h3V483h-3ZM789 445h1V501h-1ZM788 464h3V466h-3ZM793 459h1V488h-1ZM792 462h3V476h-3ZM797 456h1V509h-1ZM796 462h3V475h-3ZM801 466h1V515h-1ZM800 473h3V505h-3ZM805 492h1V515h-1ZM804 492h3V505h-3ZM809 482h1V506h-1ZM808 488h3V493h-3ZM813 473h1V498h-1ZM812 476h3V489h-3ZM817 468h1V496h-1ZM816 468h3V490h-3ZM821 455h1V490h-1ZM820 468h3V478h-3ZM825 469h1V498h-1ZM824 470h3V479h-3ZM829 450h1V475h-1ZM828 469h3V472h-3ZM833 443h1V483h-1ZM832 470h3V481h-3ZM837 470h1V482h-1ZM836 471h3V482h-3ZM841 465h1V483h-1ZM840 472h3V476h-3ZM845 463h1V488h-1ZM844 472h3V488h-3ZM849 477h1V537h-1ZM848 484h3V537h-3ZM853 530h1V553h-1ZM852 536h3V550h-3ZM857 535h1V562h-1ZM856 548h3V559h-3ZM861 557h1V585h-1ZM860 557h3V570h-3ZM865 563h1V582h-1ZM864 569h3V582h-3ZM869 561h1V584h-1ZM868 568h3V581h-3ZM873 540h1V588h-1ZM872 550h3V580h-3ZM877 545h1V602h-1ZM876 550h3V601h-3ZM881 598h1V636h-1ZM880 598h3V627h-3ZM885 621h1V634h-1ZM884 625h3V628h-3ZM889 620h1V639h-1ZM888 635h3V639h-3ZM893 596h1V641h-1ZM892 599h3V637h-3ZM897 579h1V609h-1ZM896 587h3V600h-3ZM901 560h1V588h-1ZM900 563h3V588h-3ZM905 551h1V576h-1ZM904 552h3V564h-3ZM909 539h1V556h-1ZM908 541h3V554h-3ZM913 531h1V566h-1ZM912 538h3V552h-3ZM917 524h1V547h-1ZM916 538h3V540h-3ZM921 534h1V582h-1ZM920 538h3V568h-3ZM925 563h1V612h-1ZM924 567h3V611h-3ZM929 581h1V615h-1ZM928 601h3V611h-3ZM933 600h1V611h-1ZM932 601h3V610h-3ZM937 598h1V623h-1ZM936 603h3V621h-3ZM941 575h1V610h-1ZM940 583h3V604h-3ZM945 571h1V619h-1ZM944 583h3V609h-3ZM949 596h1V646h-1ZM948 607h3V631h-3ZM953 630h1V664h-1ZM952 640h3V643h-3ZM957 640h1V664h-1ZM956 641h3V664h-3ZM961 642h1V674h-1ZM960 652h3V673h-3ZM965 670h1V700h-1ZM964 670h3V695h-3ZM969 629h1V700h-1ZM968 632h3V695h-3ZM973 624h1V646h-1ZM972 631h3V638h-3ZM977 635h1V710h-1ZM976 636h3V710h-3ZM981 680h1V711h-1ZM980 682h3V710h-3ZM985 664h1V697h-1ZM984 674h3V690h-3ZM989 633h1V676h-1ZM988 649h3V676h-3ZM993 632h1V665h-1ZM992 649h3V654h-3ZM997 650h1V686h-1ZM996 652h3V677h-3ZM1001 628h1V681h-1ZM1000 640h3V680h-3ZM1005 623h1V663h-1ZM1004 633h3V642h-3ZM1009 625h1V657h-1ZM1008 643h3V647h-3ZM1013 647h1V687h-1ZM1012 647h3V668h-3ZM1017 635h1V674h-1ZM1016 635h3V668h-3ZM1021 631h1V653h-1ZM1020 635h3V642h-3ZM1025 627h1V646h-1ZM1024 630h3V642h-3ZM1029 620h1V634h-1ZM1028 623h3V632h-3ZM1033 597h1V641h-1ZM1032 601h3V630h-3ZM1037 587h1V612h-1ZM1036 595h3V602h-3ZM1041 561h1V606h-1ZM1040 565h3V596h-3ZM1045 552h1V567h-1ZM1044 565h3V568h-3ZM1049 559h1V590h-1ZM1048 565h3V568h-3ZM1053 553h1V568h-1ZM1052 555h3V568h-3ZM1057 547h1V563h-1ZM1056 552h3V563h-3ZM1061 545h1V563h-1ZM1060 552h3V555h-3ZM1065 540h1V558h-1ZM1064 542h3V554h-3ZM1069 507h1V548h-1ZM1068 522h3V543h-3ZM1073 511h1V536h-1ZM1072 522h3V527h-3ZM1077 516h1V533h-1ZM1076 516h3V528h-3ZM1081 516h1V550h-1ZM1080 526h3V541h-3ZM1085 521h1V538h-1ZM1084 526h3V529h-3ZM1089 491h1V531h-1ZM1088 493h3V531h-3ZM1093 485h1V510h-1ZM1092 491h3V494h-3ZM1097 447h1V498h-1ZM1096 451h3V492h-3ZM1101 444h1V463h-1ZM1100 451h3V461h-3ZM1105 454h1V489h-1ZM1104 475h3V485h-3ZM1109 430h1V487h-1ZM1108 451h3V484h-3ZM1113 430h1V458h-1ZM1112 438h3V451h-3ZM1117 428h1V456h-1ZM1116 439h3V454h-3ZM1121 437h1V462h-1ZM1120 452h3V455h-3ZM1125 445h1V478h-1ZM1124 452h3V478h-3ZM1129 460h1V501h-1ZM1128 475h3V493h-3ZM1133 381h1V480h-1ZM1132 400h3V479h-3ZM1137 393h1V438h-1ZM1136 400h3V403h-3ZM1141 369h1V408h-1ZM1140 373h3V402h-3ZM1145 364h1V388h-1ZM1144 373h3V382h-3ZM1149 371h1V389h-1ZM1148 380h3V388h-3ZM1153 380h1V404h-1ZM1152 390h3V394h-3ZM1157 391h1V436h-1ZM1156 392h3V436h-3ZM1161 408h1V437h-1ZM1160 414h3V435h-3ZM1165 406h1V435h-1ZM1164 414h3V423h-3ZM1169 406h1V445h-1ZM1168 422h3V435h-3ZM1173 428h1V447h-1ZM1172 434h3V443h-3ZM1177 442h1V457h-1ZM1176 446h3V457h-3ZM1181 444h1V464h-1ZM1180 446h3V460h-3ZM1185 433h1V463h-1ZM1184 436h3V460h-3ZM1189 432h1V453h-1ZM1188 436h3V441h-3ZM1193 431h1V474h-1ZM1192 440h3V470h-3ZM1197 468h1V482h-1ZM1196 469h3V471h-3Z" fill="#000"/><path d="M5 181h1V210h-1ZM9 131h1V181h-1ZM13 105h1V130h-1ZM29 137h1V208h-1ZM37 154h1V161h-1ZM45 202h1V212h-1ZM65 311h1V329h-1ZM69 281h1V309h-1ZM73 279h1V294h-1ZM81 275h1V286h-1ZM97 313h1V319h-1ZM109 320h1V343h-1ZM113 311h1V319h-1ZM117 300h1V310h-1ZM121 311h1V317h-1ZM133 333h1V344h-1ZM137 318h1V334h-1ZM141 316h1V318h-1ZM145 327h1V334h-1ZM165 361h1V366h-1ZM169 367h1V368h-1ZM173 237h1V366h-1ZM177 219h1V237h-1ZM189 199h1V221h-1ZM193 200h1V212h-1ZM201 210h1V214h-1ZM213 217h1V240h-1ZM217 221h1V231h-1ZM229 266h1V269h-1ZM249 309h1V321h-1ZM277 376h1V378h-1ZM281 361h1V376h-1ZM293 353h1V379h-1ZM297 346h1V352h-1ZM305 350h1V352h-1ZM309 347h1V349h-1ZM313 346h1V354h-1ZM325 359h1V362h-1ZM329 353h1V358h-1ZM337 357h1V368h-1ZM361 428h1V438h-1ZM365 415h1V428h-1ZM369 405h1V414h-1ZM381 419h1V423h-1ZM385 406h1V429h-1ZM409 474h1V481h-1ZM425 514h1V516h-1ZM445 580h1V607h-1ZM453 587h1V592h-1ZM461 595h1V605h-1ZM469 581h1V596h-1ZM473 578h1V580h-1ZM485 573h1V592h-1ZM489 554h1V572h-1ZM493 547h1V553h-1ZM505 546h1V567h-1ZM509 497h1V546h-1ZM521 508h1V509h-1ZM525 501h1V508h-1ZM529 468h1V508h-1ZM537 478h1V484h-1ZM545 487h1V498h-1ZM549 483h1V487h-1ZM553 463h1V482h-1ZM561 476h1V491h-1ZM569 496h1V505h-1ZM577 494h1V508h-1ZM581 484h1V495h-1ZM593 430h1V508h-1ZM601 437h1V453h-1ZM609 409h1V438h-1ZM621 438h1V440h-1ZM625 419h1V444h-1ZM641 453h1V457h-1ZM649 445h1V473h-1ZM653 420h1V446h-1ZM661 424h1V430h-1ZM665 419h1V424h-1ZM673 441h1V452h-1ZM681 433h1V465h-1ZM701 455h1V466h-1ZM705 446h1V454h-1ZM709 426h1V446h-1ZM713 421h1V425h-1ZM721 415h1V429h-1ZM733 426h1V429h-1ZM745 419h1V448h-1ZM757 421h1V438h-1ZM785 466h1V482h-1ZM793 463h1V475h-1ZM805 493h1V504h-1ZM809 489h1V492h-1ZM813 477h1V488h-1ZM817 469h1V489h-1ZM825 471h1V478h-1ZM841 473h1V475h-1ZM865 570h1V581h-1ZM873 551h1V579h-1ZM889 636h1V638h-1ZM893 600h1V636h-1ZM897 588h1V599h-1ZM901 564h1V587h-1ZM905 553h1V563h-1ZM909 542h1V553h-1ZM913 539h1V551h-1ZM929 602h1V610h-1ZM937 604h1V620h-1ZM941 584h1V603h-1ZM957 642h1V663h-1ZM969 633h1V694h-1ZM981 683h1V709h-1ZM985 675h1V689h-1ZM989 650h1V675h-1ZM1001 641h1V679h-1ZM1005 634h1V641h-1ZM1017 636h1V667h-1ZM1025 631h1V641h-1ZM1029 624h1V631h-1ZM1033 602h1V629h-1ZM1037 596h1V601h-1ZM1041 566h1V595h-1ZM1053 556h1V567h-1ZM1057 553h1V562h-1ZM1065 543h1V553h-1ZM1069 523h1V542h-1ZM1077 517h1V527h-1ZM1081 527h1V540h-1ZM1089 494h1V530h-1ZM1093 492h1V493h-1ZM1097 452h1V491h-1ZM1109 452h1V483h-1ZM1113 439h1V450h-1ZM1129 476h1V492h-1ZM1133 401h1V478h-1ZM1141 374h1V401h-1ZM1161 415h1V434h-1ZM1177 447h1V456h-1ZM1185 437h1V459h-1Z" fill="#fff"/><rect x="0" y="303" width="121" height="1" fill="#000"/><rect x="0" y="309" width="241" height="1" fill="#000"/><rect x="361" y="591" width="240" height="1" fill="#000"/><rect x="121" y="219" width="240" height="1" fill="#a838b0" style="mix-blend-mode:multiply"/><rect x="241" y="353" width="240" height="1" fill="#a838b0" style="mix-blend-mode:multiply"/><path d="M-2 296h1v1h1v1h1v1h1v1h-1v1h-1v1h-1v1h-1v-2h-2v-3h2z" fill="#ee0000"/><path d="M118 283h1v1h1v1h1v1h1v1h-1v1h-1v1h-1v1h-1v-2h-2v-3h2z" fill="#ee0000"/><path d="M238 437h1v1h1v1h1v1h1v1h-1v1h-1v1h-1v1h-1v-2h-2v-3h2z" fill="#ee0000"/><path d="M358 596h1v1h1v1h1v1h1v1h-1v1h-1v1h-1v1h-1v-2h-2v-3h2z" fill="#ee0000"/><path d="M478 436h1v1h1v1h1v1h1v1h-1v1h-1v1h-1v1h-1v-2h-2v-3h2z" fill="#ee0000"/><path d="M598 418h1v1h1v1h1v1h1v1h-1v1h-1v1h-1v1h-1v-2h-2v-3h2z" fill="#ee0000"/><path d="M718 468h1v1h1v1h1v1h1v1h-1v1h-1v1h-1v1h-1v-2h-2v-3h2z" fill="#ee0000"/><path d="M838 638h1v1h1v1h1v1h1v1h-1v1h-1v1h-1v1h-1v-2h-2v-3h2z" fill="#ee0000"/><path d="M958 513h1v1h1v1h1v1h1v1h-1v1h-1v1h-1v1h-1v-2h-2v-3h2z" fill="#ee0000"/><path d="M1078 466h1v1h1v1h1v1h1v1h-1v1h-1v1h-1v1h-1v-2h-2v-3h2z" fill="#ee0000"/><path d="M-2 203h1v1h1v1h1v1h1v1h-1v1h-1v1h-1v1h-1v-2h-2v-3h2z" fill="#007800"/><path d="M118 314h1v1h1v1h1v1h1v1h-1v1h-1v1h-1v1h-1v-2h-2v-3h2z" fill="#007800"/><path d="M238 281h1v1h1v1h1v1h1v1h-1v1h-1v1h-1v1h-1v-2h-2v-3h2z" fill="#007800"/><path d="M358 436h1v1h1v1h1v1h1v1h-1v1h-1v1h-1v1h-1v-2h-2v-3h2z" fill="#007800"/><path d="M478 592h1v1h1v1h1v1h1v1h-1v1h-1v1h-1v1h-1v-2h-2v-3h2z" fill="#007800"/><path d="M598 450h1v1h1v1h1v1h1v1h-1v1h-1v1h-1v1h-1v-2h-2v-3h2z" fill="#007800"/><path d="M718 427h1v1h1v1h1v1h1v1h-1v1h-1v1h-1v1h-1v-2h-2v-3h2z" fill="#007800"/><path d="M838 473h1v1h1v1h1v1h1v1h-1v1h-1v1h-1v1h-1v-2h-2v-3h2z" fill="#007800"/><path d="M958 648h1v1h1v1h1v1h1v1h-1v1h-1v1h-1v1h-1v-2h-2v-3h2z" fill="#007800"/><path d="M1078 535h1v1h1v1h1v1h1v1h-1v1h-1v1h-1v1h-1v-2h-2v-3h2z" fill="#007800"/><rect x="0" y="611" width="1503" height="2" fill="#ac1cac" style="mix-blend-mode:multiply"/><path d="M951 592H1271V679H951Z M954 595V676H1268V595Z" fill="#d82028" fill-rule="evenodd"/><path d="M1195 0H1202L1198.5 4Z" fill="#b4b4b4" shape-rendering="auto"/><rect x="1503" y="0" width="1" height="728" fill="#000"/><rect x="0" y="727" width="1504" height="1" fill="#000"/><rect x="1575" y="0" width="1" height="752" fill="#e6e6e6"/><rect x="1504" y="42" width="2" height="1" fill="#000"/><rect x="1504" y="107" width="2" height="1" fill="#000"/><rect x="1504" y="172" width="2" height="1" fill="#000"/><rect x="1504" y="237" width="2" height="1" fill="#000"/><rect x="1504" y="302" width="2" height="1" fill="#000"/><rect x="1504" y="367" width="2" height="1" fill="#000"/><rect x="1504" y="432" width="2" height="1" fill="#000"/><rect x="1504" y="497" width="2" height="1" fill="#000"/><rect x="1504" y="562" width="2" height="1" fill="#000"/><rect x="1504" y="627" width="2" height="1" fill="#000"/><rect x="1504" y="692" width="2" height="1" fill="#000"/><rect x="117" y="728" width="1" height="4" fill="#000"/><rect x="245" y="728" width="1" height="4" fill="#000"/><rect x="373" y="728" width="1" height="4" fill="#000"/><rect x="501" y="728" width="1" height="4" fill="#000"/><rect x="629" y="728" width="1" height="4" fill="#000"/><rect x="757" y="728" width="1" height="4" fill="#000"/><rect x="885" y="728" width="1" height="4" fill="#000"/><rect x="1013" y="728" width="1" height="4" fill="#000"/><rect x="1141" y="728" width="1" height="4" fill="#000"/><rect x="1505" y="461" width="63" height="17" fill="#000"/><rect x="1505" y="606" width="63" height="17" fill="#ff00ff"/>
</svg>

<div class="t ax" style="left:1511px;top:36px">1.86315</div>
<div class="t ax" style="left:1511px;top:101px">1.85205</div>
<div class="t ax" style="left:1511px;top:166px">1.84080</div>
<div class="t ax" style="left:1511px;top:231px">1.82970</div>
<div class="t ax" style="left:1511px;top:296px">1.81860</div>
<div class="t ax" style="left:1511px;top:361px">1.80750</div>
<div class="t ax" style="left:1511px;top:426px">1.79640</div>
<div class="t ax" style="left:1511px;top:491px">1.78530</div>
<div class="t ax" style="left:1511px;top:556px">1.77420</div>
<div class="t ax" style="left:1511px;top:621px">1.76295</div>
<div class="t ax" style="left:1511px;top:686px">1.75185</div>
<div class="t ax" style="left:1511px;top:463px;color:#fff">1.79001</div>
<div class="t ax" style="left:1511px;top:608px;color:#fff">1.76565</div>
<div class="t ax" style="left:0px;top:733px">Aug 2024</div>
<div class="t ax" style="left:117px;top:733px">9 Aug 20:00</div>
<div class="t ax" style="left:245px;top:733px">19 Aug 04:00</div>
<div class="t ax" style="left:373px;top:733px">26 Aug 12:00</div>
<div class="t ax" style="left:501px;top:733px">2 Sep 20:00</div>
<div class="t ax" style="left:629px;top:733px">10 Sep 04:00</div>
<div class="t ax" style="left:757px;top:733px">17 Sep 12:00</div>
<div class="t ax" style="left:885px;top:733px">24 Sep 20:00</div>
<div class="t ax" style="left:1013px;top:733px">2 Oct 04:00</div>
<div class="t ax" style="left:1141px;top:733px">9 Oct 12:00</div>
<div class="t ax" style="left:10px;top:1px">EURNZD,H4&nbsp;&nbsp;1.79010 1.79022 1.78811 1.79001</div>
<svg style="position:absolute;left:0;top:3px" width="5" height="5"><path d="M0 0H4L0 4Z" fill="#000"/></svg>
<div class="t" style="left:1341px;top:583px;font-size:18px;color:#c820c8;transform:scaleX(0.95);transform-origin:0 0">Long</div>
<div class="t" style="left:1337px;top:691px;font-size:16px;color:#2020c8">Market Profile - Active</div>
<div class="panel"></div>
<div class="t" style="left:83px;top:23px;font-size:23px;font-weight:bold;color:#dc1e3c;transform:scaleX(1.22);transform-origin:0 0;-webkit-text-stroke:0.5px #dc1e3c">TradeCZ.cz</div>
<div class="t" style="left:299px;top:21px;width:18px;height:18px;box-sizing:border-box;border-top:2px solid #c9cbe2;border-left:2px solid #c9cbe2;border-right:2px solid #9a9dc2;border-bottom:2px solid #9a9dc2;font-size:19px;line-height:15px;text-align:center;color:#000">X</div>
<div class="btn p" style="left:4px;top:46px;width:55px"><span style="display:inline-block;transform:scaleX(1.0)">MarketPr.</span></div>
<div class="btn" style="left:64px;top:46px;width:25px"><span style="display:inline-block;transform:scaleX(0.9)">-D</span></div>
<div class="btn p" style="left:94px;top:46px;width:25px"><span style="display:inline-block;transform:scaleX(1.0)">-W</span></div>
<div class="btn" style="left:124px;top:46px;width:25px"><span style="display:inline-block;transform:scaleX(0.87)">-MN</span></div>
<div class="btn" style="left:154px;top:46px;width:50px"><span style="display:inline-block;transform:scaleX(0.97)">123 Gap</span></div>
<div class="btn" style="left:209px;top:46px;width:50px"><span style="display:inline-block;transform:scaleX(0.95)">Pivot H/L</span></div>
<div class="btn" style="left:264px;top:46px;width:50px"><span style="display:inline-block;transform:scaleX(0.94)">Physgap</span></div>
<div class="btn" style="left:14px;top:71px;width:65px"><span style="display:inline-block;transform:scaleX(0.94)">PriceProfile</span></div>
<div class="btn" style="left:84px;top:71px;width:60px"><span style="display:inline-block;transform:scaleX(0.89)">PROFILs</span></div>
<div class="btn" style="left:149px;top:71px;width:65px"><span style="display:inline-block;transform:scaleX(0.95)">Ini.Balance</span></div>
<div class="btn p" style="left:219px;top:71px;width:25px"><span style="display:inline-block;transform:scaleX(0.9)">-D</span></div>
<div class="btn" style="left:249px;top:71px;width:25px"><span style="display:inline-block;transform:scaleX(1.0)">-W</span></div>
<div class="btn" style="left:279px;top:71px;width:25px"><span style="display:inline-block;transform:scaleX(0.87)">-MN</span></div>
</body></html>
